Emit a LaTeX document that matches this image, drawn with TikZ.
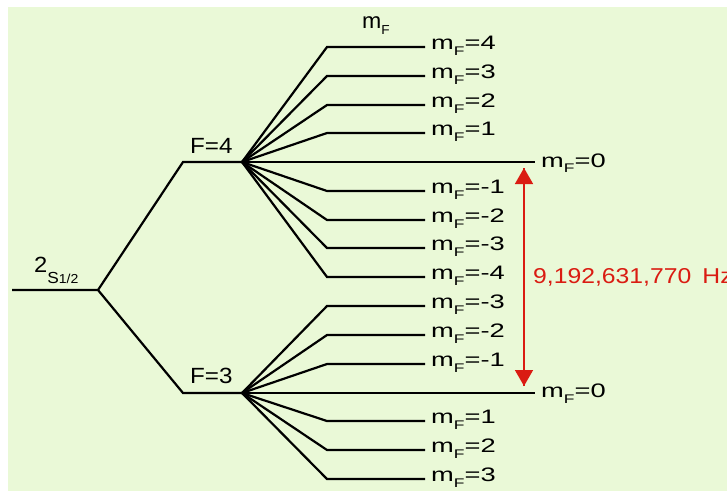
\documentclass[tikz,border=0pt]{standalone}
\usepackage{fontspec}
\setmainfont{Liberation Sans}
\usetikzlibrary{arrows.meta}
\definecolor{bgc}{RGB}{234,249,215}
\definecolor{arrred}{RGB}{218,28,18}
\newcommand{\mFlab}[1]{\scalebox{1.4}[1]{\fontsize{19.5}{20}\selectfont m\raisebox{-0.3em}{\fontsize{12.5}{13}\selectfont F}=#1}}
\tikzset{
  lvl/.style={line width=2.2pt, black, line join=miter},
  lab/.style={inner sep=0pt, anchor=base west, text=black},
  freq/.style={-{Triangle[width=18pt,length=16pt]}, line width=1.6pt, arrred, shorten >=0pt}
}
\begin{document}
\begin{tikzpicture}[x=1pt,y=-1pt]
\useasboundingbox (0,0) rectangle (727,491);
\clip (0,0) rectangle (727,491);
\fill[white] (0,0) rectangle (727,491);
\fill[bgc] (8,7) rectangle (727,491);
% main levels
\coordinate (S0) at (12,290);
\coordinate (S1) at (98,290);
\coordinate (F4a) at (183,162);
\coordinate (F4b) at (242,162);
\coordinate (F3a) at (183,393);
\coordinate (F3b) at (242,393);
\draw[lvl] (S0) -- (S1) -- (F4a) -- (F4b);
\draw[lvl] (S1) -- (F3a) -- (F3b);
% F=4 sublevels
\foreach \y/\m [count=\i] in {47/4,76/3,105/2,133/1,191/-1,220/-2,248/-3,277/-4}{
  \coordinate (u\i) at (425,\y);
  \draw[lvl] (F4b) -- (327,\y) -- (u\i);
  \node[lab] (ul\i) at (431,\y+2.5) {\mFlab{\m}};
}
\coordinate (u0) at (535,162);
\draw[lvl] (F4b) -- (u0);
\node[lab] (ul0) at (541,167) {\mFlab{0}};
% F=3 sublevels
\foreach \y/\m [count=\i] in {306/-3,335/-2,364/-1,421/1,450/2,479/3}{
  \coordinate (d\i) at (425,\y);
  \draw[lvl] (F3b) -- (327,\y) -- (d\i);
  \node[lab] (dl\i) at (431,\y+2.5) {\mFlab{\m}};
}
\coordinate (d0) at (535,393);
\draw[lvl] (F3b) -- (d0);
\node[lab] (dl0) at (541,397.5) {\mFlab{0}};
% labels
\node[lab] (hdr) at (362,28) {\scalebox{1.05}[1]{\fontsize{22}{23}\selectfont m\raisebox{-0.3em}{\fontsize{13}{14}\selectfont F}}};
\node[lab] (f4) at (190,153) {\scalebox{1.1}[1]{\fontsize{22}{23}\selectfont F=4}};
\node[lab] (f3) at (190,383.5) {\scalebox{1.1}[1]{\fontsize{22}{23}\selectfont F=3}};
\node[lab] (s2) at (34,272) {\scalebox{1.08}[1]{\fontsize{22}{23}\selectfont 2\raisebox{-11pt}{\fontsize{16}{17}\selectfont S\fontsize{13}{14}\selectfont 1/2}}};
% frequency arrow
\coordinate (atop) at (524,168);
\coordinate (abot) at (524,386);
\draw[freq] (abot) -- (atop);
\draw[freq] (atop) -- (abot);
\node[lab, text=arrred] (hz) at (533,283) {\scalebox{1.15}[1]{\fontsize{21.5}{22}\selectfont 9,192,631,770\hspace{0.45em}Hz}};
\end{tikzpicture}
\end{document}
